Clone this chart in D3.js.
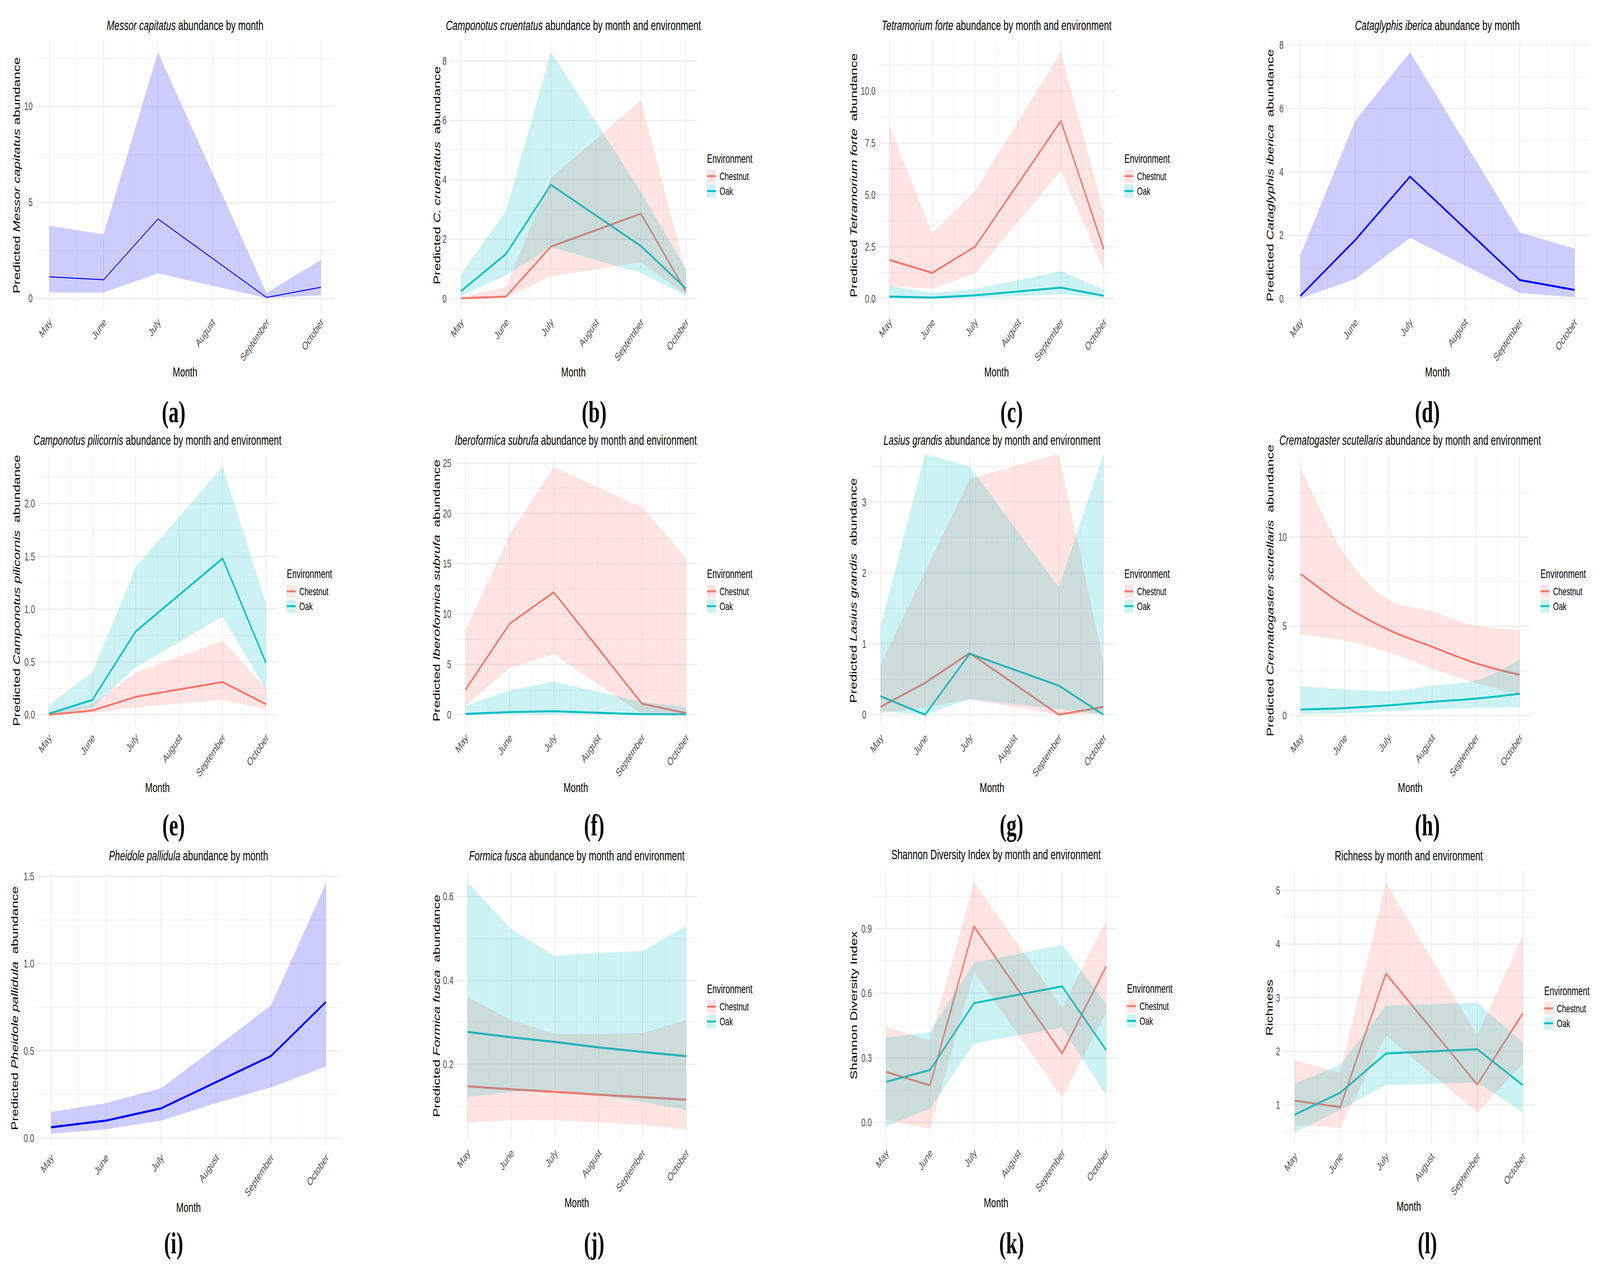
<!DOCTYPE html>
<html>
<head>
<meta charset="utf-8">
<script src="https://cdn.jsdelivr.net/npm/d3@7"></script>
<style>
html, body { margin: 0; padding: 0; background: #fff; overflow: hidden; width: 100%; height: 100%; }
#chart { width: 100vw; height: 100vh; }
#chart svg { display: block; width: 100vw; height: 100vh; }
svg text { font-family: "Liberation Sans", Arial, sans-serif; white-space: pre; }
</style>
</head>
<body>
<div id="chart"></div>
<script>
var W = 6137, H = 3262;

// month axis is numeric: 5 = May ... 10 = October
var monthNum = [5, 6, 7, 8, 9, 10];
var monthLabel = ["May", "June", "July", "August", "September", "October"];
var sampled = [5, 6, 7, 9, 10];        // no August sampling
var allMonths = [5, 6, 7, 8, 9, 10];
var envColor = {"Chestnut": "#F8766D", "Oak": "#00BFC4"};

// (a) Messor capitatus
var aFit  = [1.13, 0.98, 4.14, 0.06, 0.59];
var aLow  = [0.32, 0.32, 1.31, 0.03, 0.17];
var aHigh = [3.79, 3.34, 12.81, 0.29, 2.01];

// (b) Camponotus cruentatus
var bChestFit  = [0.01, 0.07, 1.75, 2.86, 0.24];
var bChestLow  = [0.00, 0.03, 0.75, 1.23, 0.13];
var bChestHigh = [0.05, 0.39, 4.06, 6.67, 0.91];
var bOakFit    = [0.25, 1.50, 3.83, 1.77, 0.34];
var bOakLow    = [0.10, 0.78, 1.74, 0.87, 0.10];
var bOakHigh   = [0.82, 2.95, 8.30, 3.59, 1.00];

// (c) Tetramorium forte
var cChestFit  = [1.87, 1.24, 2.51, 8.56, 2.38];
var cChestLow  = [0.60, 0.49, 1.22, 6.17, 1.37];
var cChestHigh = [8.37, 3.15, 5.19, 11.87, 4.16];
var cOakFit    = [0.10, 0.05, 0.16, 0.53, 0.14];
var cOakLow    = [0.03, 0.01, 0.04, 0.21, 0.04];
var cOakHigh   = [0.62, 0.27, 0.47, 1.33, 0.43];

// (d) Cataglyphis iberica
var dFit  = [0.09, 1.85, 3.85, 0.59, 0.28];
var dLow  = [0.01, 0.62, 1.92, 0.18, 0.05];
var dHigh = [1.37, 5.61, 7.77, 2.09, 1.58];

// (e) Camponotus pilicornis
var eChestFit  = [0.00, 0.04, 0.17, 0.31, 0.10];
var eChestLow  = [0.00, 0.02, 0.07, 0.14, 0.05];
var eChestHigh = [0.01, 0.10, 0.40, 0.70, 0.25];
var eOakFit    = [0.01, 0.14, 0.79, 1.48, 0.49];
var eOakLow    = [0.00, 0.07, 0.45, 0.93, 0.24];
var eOakHigh   = [0.09, 0.40, 1.40, 2.35, 1.05];

// (f) Iberoformica subrufa
var fChestFit  = [2.49, 9.04, 12.17, 1.10, 0.16];
var fChestLow  = [0.88, 4.63, 6.02, 0.08, 0.02];
var fChestHigh = [8.37, 17.9, 24.6, 20.6, 15.6];
var fOakFit    = [0.08, 0.27, 0.35, 0.05, 0.05];
var fOakLow    = [0.01, 0.03, 0.05, 0.00, 0.00];
var fOakHigh   = [0.88, 2.41, 3.29, 1.28, 0.75];

// (g) Lasius grandis
var gChestFit  = [0.11, 0.45, 0.87, 0.00, 0.11];
var gChestLow  = [0.02, 0.10, 0.22, 0.00, 0.02];
var gChestHigh = [0.71, 2.02, 3.33, 3.68, 0.73];
var gOakFit    = [0.26, 0.00, 0.86, 0.41, 0.00];
var gOakLow    = [0.05, 0.00, 0.22, 0.08, 0.00];
var gOakHigh   = [1.25, 3.68, 3.50, 1.80, 3.68];

// (h) Crematogaster scutellaris
var hChestFit  = [7.93, 6.15, 4.80, 3.85, 2.92, 2.27];
var hChestLow  = [4.53, 4.18, 3.55, 2.64, 1.81, 1.21];
var hChestHigh = [13.9, 9.06, 6.50, 5.82, 5.03, 4.79];
var hOakFit    = [0.33, 0.41, 0.56, 0.76, 0.94, 1.21];
var hOakLow    = [0.08, 0.12, 0.23, 0.33, 0.42, 0.46];
var hOakHigh   = [1.63, 1.47, 1.36, 1.66, 1.96, 3.14];

// (i) Pheidole pallidula
var iFit  = [0.062, 0.10, 0.17, 0.32, 0.47, 0.78];
var iLow  = [0.025, 0.05, 0.10, 0.20, 0.29, 0.41];
var iHigh = [0.15, 0.20, 0.285, 0.52, 0.76, 1.46];

// (j) Formica fusca
var jChestFit  = [0.147, 0.140, 0.134, 0.127, 0.121, 0.115];
var jChestLow  = [0.060, 0.066, 0.066, 0.061, 0.055, 0.044];
var jChestHigh = [0.361, 0.305, 0.272, 0.272, 0.274, 0.305];
var jOakFit    = [0.277, 0.264, 0.253, 0.240, 0.229, 0.219];
var jOakLow    = [0.121, 0.134, 0.138, 0.126, 0.110, 0.090];
var jOakHigh   = [0.634, 0.522, 0.458, 0.466, 0.470, 0.529];

// (k) Shannon diversity
var kChestFit  = [0.235, 0.172, 0.91, 0.32, 0.725];
var kChestLow  = [0.014, -0.03, 0.70, 0.115, 0.51];
var kChestHigh = [0.443, 0.382, 1.116, 0.534, 0.938];
var kOakFit    = [0.188, 0.244, 0.554, 0.632, 0.336];
var kOakLow    = [-0.018, 0.064, 0.367, 0.44, 0.127];
var kOakHigh   = [0.393, 0.420, 0.742, 0.825, 0.55];

// (l) Richness
var lChestFit  = [1.08, 0.96, 3.45, 1.38, 2.71];
var lChestLow  = [0.62, 0.58, 2.30, 0.86, 1.77];
var lChestHigh = [1.84, 1.60, 5.15, 2.30, 4.17];
var lOakFit    = [0.82, 1.23, 1.96, 2.04, 1.37];
var lOakLow    = [0.49, 0.91, 1.37, 1.42, 0.87];
var lOakHigh   = [1.40, 1.75, 2.85, 2.91, 2.16];

var envTitle = " abundance by month and environment";
var oneTitle = " abundance by month";

function two(ch, oak) {
    return [{name: "Chestnut", fit: ch[0], low: ch[1], high: ch[2]},
            {name: "Oak", fit: oak[0], low: oak[1], high: oak[2]}];
}

var panels = [
    {id: "a", x: sampled, title: [["Messor capitatus", 1], [oneTitle, 0]],
     ytitle: [["Predicted ", 0], ["Messor capitatus", 1], [" abundance", 0]],
     ticks: [0, 5, 10], fmt: "d",
     series: [{name: null, fit: aFit, low: aLow, high: aHigh}]},
    {id: "b", x: sampled, title: [["Camponotus cruentatus", 1], [envTitle, 0]],
     ytitle: [["Predicted ", 0], ["C. cruentatus", 1], ["  abundance", 0]],
     ticks: [0, 2, 4, 6, 8], fmt: "d",
     series: two([bChestFit, bChestLow, bChestHigh], [bOakFit, bOakLow, bOakHigh])},
    {id: "c", x: sampled, title: [["Tetramorium forte", 1], [envTitle, 0]],
     ytitle: [["Predicted ", 0], ["Tetramorium forte", 1], ["  abundance", 0]],
     ticks: [0, 2.5, 5, 7.5, 10], fmt: ".1f",
     series: two([cChestFit, cChestLow, cChestHigh], [cOakFit, cOakLow, cOakHigh])},
    {id: "d", x: sampled, title: [["Cataglyphis iberica", 1], [oneTitle, 0]],
     ytitle: [["Predicted ", 0], ["Cataglyphis iberica", 1], ["  abundance", 0]],
     ticks: [0, 2, 4, 6, 8], fmt: "d",
     series: [{name: null, fit: dFit, low: dLow, high: dHigh}]},
    {id: "e", x: sampled, title: [["Camponotus pilicornis", 1], [envTitle, 0]],
     ytitle: [["Predicted ", 0], ["Camponotus pilicornis", 1], ["  abundance", 0]],
     ticks: [0, 0.5, 1, 1.5, 2], fmt: ".1f",
     series: two([eChestFit, eChestLow, eChestHigh], [eOakFit, eOakLow, eOakHigh])},
    {id: "f", x: sampled, title: [["Iberoformica subrufa", 1], [envTitle, 0]],
     ytitle: [["Predicted ", 0], ["Iberoformica subrufa", 1], ["  abundance", 0]],
     ticks: [0, 5, 10, 15, 20, 25], fmt: "d",
     series: two([fChestFit, fChestLow, fChestHigh], [fOakFit, fOakLow, fOakHigh])},
    {id: "g", x: sampled, title: [["Lasius grandis", 1], [envTitle, 0]],
     ytitle: [["Predicted ", 0], ["Lasius grandis", 1], ["  abundance", 0]],
     ticks: [0, 1, 2, 3], fmt: "d",
     series: two([gChestFit, gChestLow, gChestHigh], [gOakFit, gOakLow, gOakHigh])},
    {id: "h", x: allMonths, smooth: true, title: [["Crematogaster scutellaris", 1], [envTitle, 0]],
     ytitle: [["Predicted ", 0], ["Crematogaster scutellaris", 1], ["  abundance", 0]],
     ticks: [0, 5, 10], fmt: "d",
     series: two([hChestFit, hChestLow, hChestHigh], [hOakFit, hOakLow, hOakHigh])},
    {id: "i", x: allMonths, title: [["Pheidole pallidula", 1], [oneTitle, 0]],
     ytitle: [["Predicted ", 0], ["Pheidole pallidula", 1], ["  abundance", 0]],
     ticks: [0, 0.5, 1, 1.5], fmt: ".1f",
     series: [{name: null, fit: iFit, low: iLow, high: iHigh}]},
    {id: "j", x: allMonths, title: [["Formica fusca", 1], [envTitle, 0]],
     ytitle: [["Predicted ", 0], ["Formica fusca", 1], ["  abundance", 0]],
     ticks: [0.2, 0.4, 0.6], fmt: ".1f",
     series: two([jChestFit, jChestLow, jChestHigh], [jOakFit, jOakLow, jOakHigh])},
    {id: "k", x: sampled, title: [["Shannon Diversity Index by month and environment", 0]],
     ytitle: [["Shannon Diversity Index", 0]],
     ticks: [0, 0.3, 0.6, 0.9], fmt: ".1f",
     series: two([kChestFit, kChestLow, kChestHigh], [kOakFit, kOakLow, kOakHigh])},
    {id: "l", x: sampled, title: [["Richness by month and environment", 0]],
     ytitle: [["Richness", 0]],
     ticks: [1, 2, 3, 4, 5], fmt: "d",
     series: two([lChestFit, lChestLow, lChestHigh], [lOakFit, lOakLow, lOakHigh])}
];

// panel boxes in page pixels
var layout = {
    a: {left: 137,  right: 1283, top: 103,  bottom: 795,  yd: [-0.62, 13.44],  ytx: 63,   lw: 2.5},
    b: {left: 1725, right: 2674, top: 103,  bottom: 795,  yd: [-0.40, 8.70],   ytx: 1676, lw: 5},
    c: {left: 3370, right: 4275, top: 103,  bottom: 795,  yd: [-0.57, 12.45],  ytx: 3275, lw: 5},
    d: {left: 4935, right: 6092, top: 103,  bottom: 795,  yd: [-0.37, 8.15],   ytx: 4871, lw: 5},
    e: {left: 146,  right: 1062, top: 1165, bottom: 1859, yd: [-0.107, 2.46],  ytx: 63,   lw: 5},
    f: {left: 1743, right: 2674, top: 1165, bottom: 1859, yd: [-1.12, 25.8],   ytx: 1674, lw: 5},
    g: {left: 3335, right: 4275, top: 1165, bottom: 1859, yd: [-0.16, 3.665],  ytx: 3273, lw: 5},
    h: {left: 4947, right: 5871, top: 1165, bottom: 1859, yd: [-0.60, 14.6],   ytx: 4871, lw: 5},
    i: {left: 143,  right: 1303, top: 2229, bottom: 2934, yd: [-0.045, 1.533], ytx: 56,   lw: 5.5},
    j: {left: 1751, right: 2674, top: 2229, bottom: 2922, yd: [0.016, 0.662],  ytx: 1674, lw: 5.5},
    k: {left: 3356, right: 4285, top: 2226, bottom: 2922, yd: [-0.087, 1.175], ytx: 3275, lw: 5},
    l: {left: 4922, right: 5885, top: 2229, bottom: 2931, yd: [0.26, 5.37],    ytx: 4869, lw: 5}
};
var tagX = [666, 2279, 3880, 5475];
var tagY = [1055, 2113, 3183];

// the drawing is laid out in a 6137 x 3262 frame and stretched to fill the window
var svg = d3.select("#chart").append("svg")
    .attr("viewBox", "0 0 " + W + " " + H)
    .attr("preserveAspectRatio", "none")
    .style("background", "#fff");
var defs = svg.append("defs");

function addText(sel, parts) {
    parts.forEach(function(p) {
        sel.append("tspan").text(p[0]).style("font-style", p[1] ? "italic" : "normal");
    });
}

panels.forEach(function(p, idx) {
    var L = layout[p.id];
    var g = svg.append("g").attr("class", "panel-" + p.id);
    var x = d3.scaleLinear().domain([4.75, 10.25]).range([L.left, L.right]);
    var y = d3.scaleLinear().domain(L.yd).range([L.bottom, L.top]);
    var cy = (L.top + L.bottom) / 2;
    var cx = (L.left + L.right) / 2;

    defs.append("clipPath").attr("id", "clip-" + p.id)
        .append("rect")
        .attr("x", L.left).attr("y", L.top)
        .attr("width", L.right - L.left).attr("height", L.bottom - L.top);

    // grid
    var xMinor = d3.range(5.5, 10, 1);
    var step = p.ticks[1] - p.ticks[0];
    var yMinor = d3.range(p.ticks[0] - step / 2, p.ticks[p.ticks.length - 1] + step, step)
        .filter(function(v) { return v > L.yd[0] && v < L.yd[1]; });

    g.selectAll(".xminor").data(xMinor).enter().append("line")
        .attr("x1", function(d) { return x(d); }).attr("x2", function(d) { return x(d); })
        .attr("y1", L.top).attr("y2", L.bottom)
        .attr("stroke", "#EBEBEB").attr("stroke-width", 1.4);
    g.selectAll(".yminor").data(yMinor).enter().append("line")
        .attr("x1", L.left).attr("x2", L.right)
        .attr("y1", function(d) { return y(d); }).attr("y2", function(d) { return y(d); })
        .attr("stroke", "#EBEBEB").attr("stroke-width", 1.4);
    g.selectAll(".xmajor").data(monthNum).enter().append("line")
        .attr("x1", function(d) { return x(d); }).attr("x2", function(d) { return x(d); })
        .attr("y1", L.top).attr("y2", L.bottom)
        .attr("stroke", "#EBEBEB").attr("stroke-width", 2.8);
    g.selectAll(".ymajor").data(p.ticks).enter().append("line")
        .attr("x1", L.left).attr("x2", L.right)
        .attr("y1", function(d) { return y(d); }).attr("y2", function(d) { return y(d); })
        .attr("stroke", "#EBEBEB").attr("stroke-width", 2.8);

    // series: lines first, ribbons over them
    var plot = g.append("g").attr("clip-path", "url(#clip-" + p.id + ")");
    var curve = p.smooth ? d3.curveMonotoneX : d3.curveLinear;
    var rows = p.series.map(function(s) {
        return {
            color: s.name ? envColor[s.name] : "#0000FF",
            pts: p.x.map(function(m, i) {
                return {m: m, fit: s.fit[i], low: s.low[i], high: s.high[i]};
            })
        };
    });
    var line = d3.line().curve(curve)
        .x(function(d) { return x(d.m); }).y(function(d) { return y(d.fit); });
    var area = d3.area().curve(curve)
        .x(function(d) { return x(d.m); })
        .y0(function(d) { return y(d.low); })
        .y1(function(d) { return y(d.high); });

    rows.forEach(function(r) {
        plot.append("path").attr("d", line(r.pts))
            .attr("fill", "none").attr("stroke", r.color)
            .attr("stroke-width", L.lw).attr("stroke-linejoin", "round");
    });
    rows.forEach(function(r) {
        plot.append("path").attr("d", area(r.pts))
            .attr("fill", r.color).attr("fill-opacity", 0.2);
    });

    // y tick labels
    var fmt = d3.format(p.fmt);
    g.selectAll(".ytick").data(p.ticks).enter().append("text")
        .attr("x", L.left - 12)
        .attr("y", function(d) { return y(d); })
        .attr("text-anchor", "end")
        .attr("dominant-baseline", "central")
        .attr("font-size", 29)
        .attr("fill", "#4D4D4D")
        .text(function(d) { return fmt(d); });

    // x tick labels, rotated
    g.selectAll(".xtick").data(monthNum).enter().append("text")
        .attr("transform", function(d) {
            return "translate(" + (x(d) + 12) + "," + (L.bottom + 32) + ") rotate(-45)";
        })
        .attr("text-anchor", "end")
        .attr("font-size", 29)
        .attr("fill", "#4D4D4D")
        .text(function(d, i) { return monthLabel[i]; });

    // titles
    var t = g.append("text")
        .attr("x", cx).attr("y", L.top - 39)
        .attr("text-anchor", "middle").attr("dominant-baseline", "central")
        .attr("font-size", 35).attr("fill", "#000");
    addText(t, p.title);

    g.append("text")
        .attr("x", cx).attr("y", L.bottom + 157)
        .attr("text-anchor", "middle").attr("dominant-baseline", "central")
        .attr("font-size", 34).attr("fill", "#000")
        .text("Month");

    var yt = g.append("text")
        .attr("transform", "translate(" + L.ytx + "," + cy + ") rotate(-90)")
        .attr("text-anchor", "middle").attr("dominant-baseline", "central")
        .attr("font-size", 35).attr("fill", "#000");
    addText(yt, p.ytitle);

    // legend
    if (p.series.length > 1) {
        var lx = L.right + 38;
        var lg = g.append("g");
        lg.append("text")
            .attr("x", lx).attr("y", cy - 43)
            .attr("dominant-baseline", "central")
            .attr("font-size", 31).attr("fill", "#000")
            .text("Environment");
        p.series.forEach(function(s, i) {
            var ky = cy + 2 + i * 38;
            lg.append("rect")
                .attr("x", lx).attr("y", ky - 17)
                .attr("width", 34).attr("height", 34)
                .attr("fill", envColor[s.name]).attr("fill-opacity", 0.2);
            lg.append("line")
                .attr("x1", lx).attr("x2", lx + 34)
                .attr("y1", ky).attr("y2", ky)
                .attr("stroke", envColor[s.name]).attr("stroke-width", 5);
            lg.append("text")
                .attr("x", lx + 48).attr("y", ky)
                .attr("dominant-baseline", "central")
                .attr("font-size", 28).attr("fill", "#000")
                .text(s.name);
        });
    }

    // panel tag
    g.append("text")
        .attr("x", tagX[idx % 4]).attr("y", tagY[Math.floor(idx / 4)])
        .attr("text-anchor", "middle").attr("dominant-baseline", "central")
        .style("font-family", "'Liberation Serif', serif")
        .attr("font-weight", "bold").attr("font-size", 78)
        .attr("fill", "#000")
        .text("(" + p.id + ")");
});
</script>
</body>
</html>
